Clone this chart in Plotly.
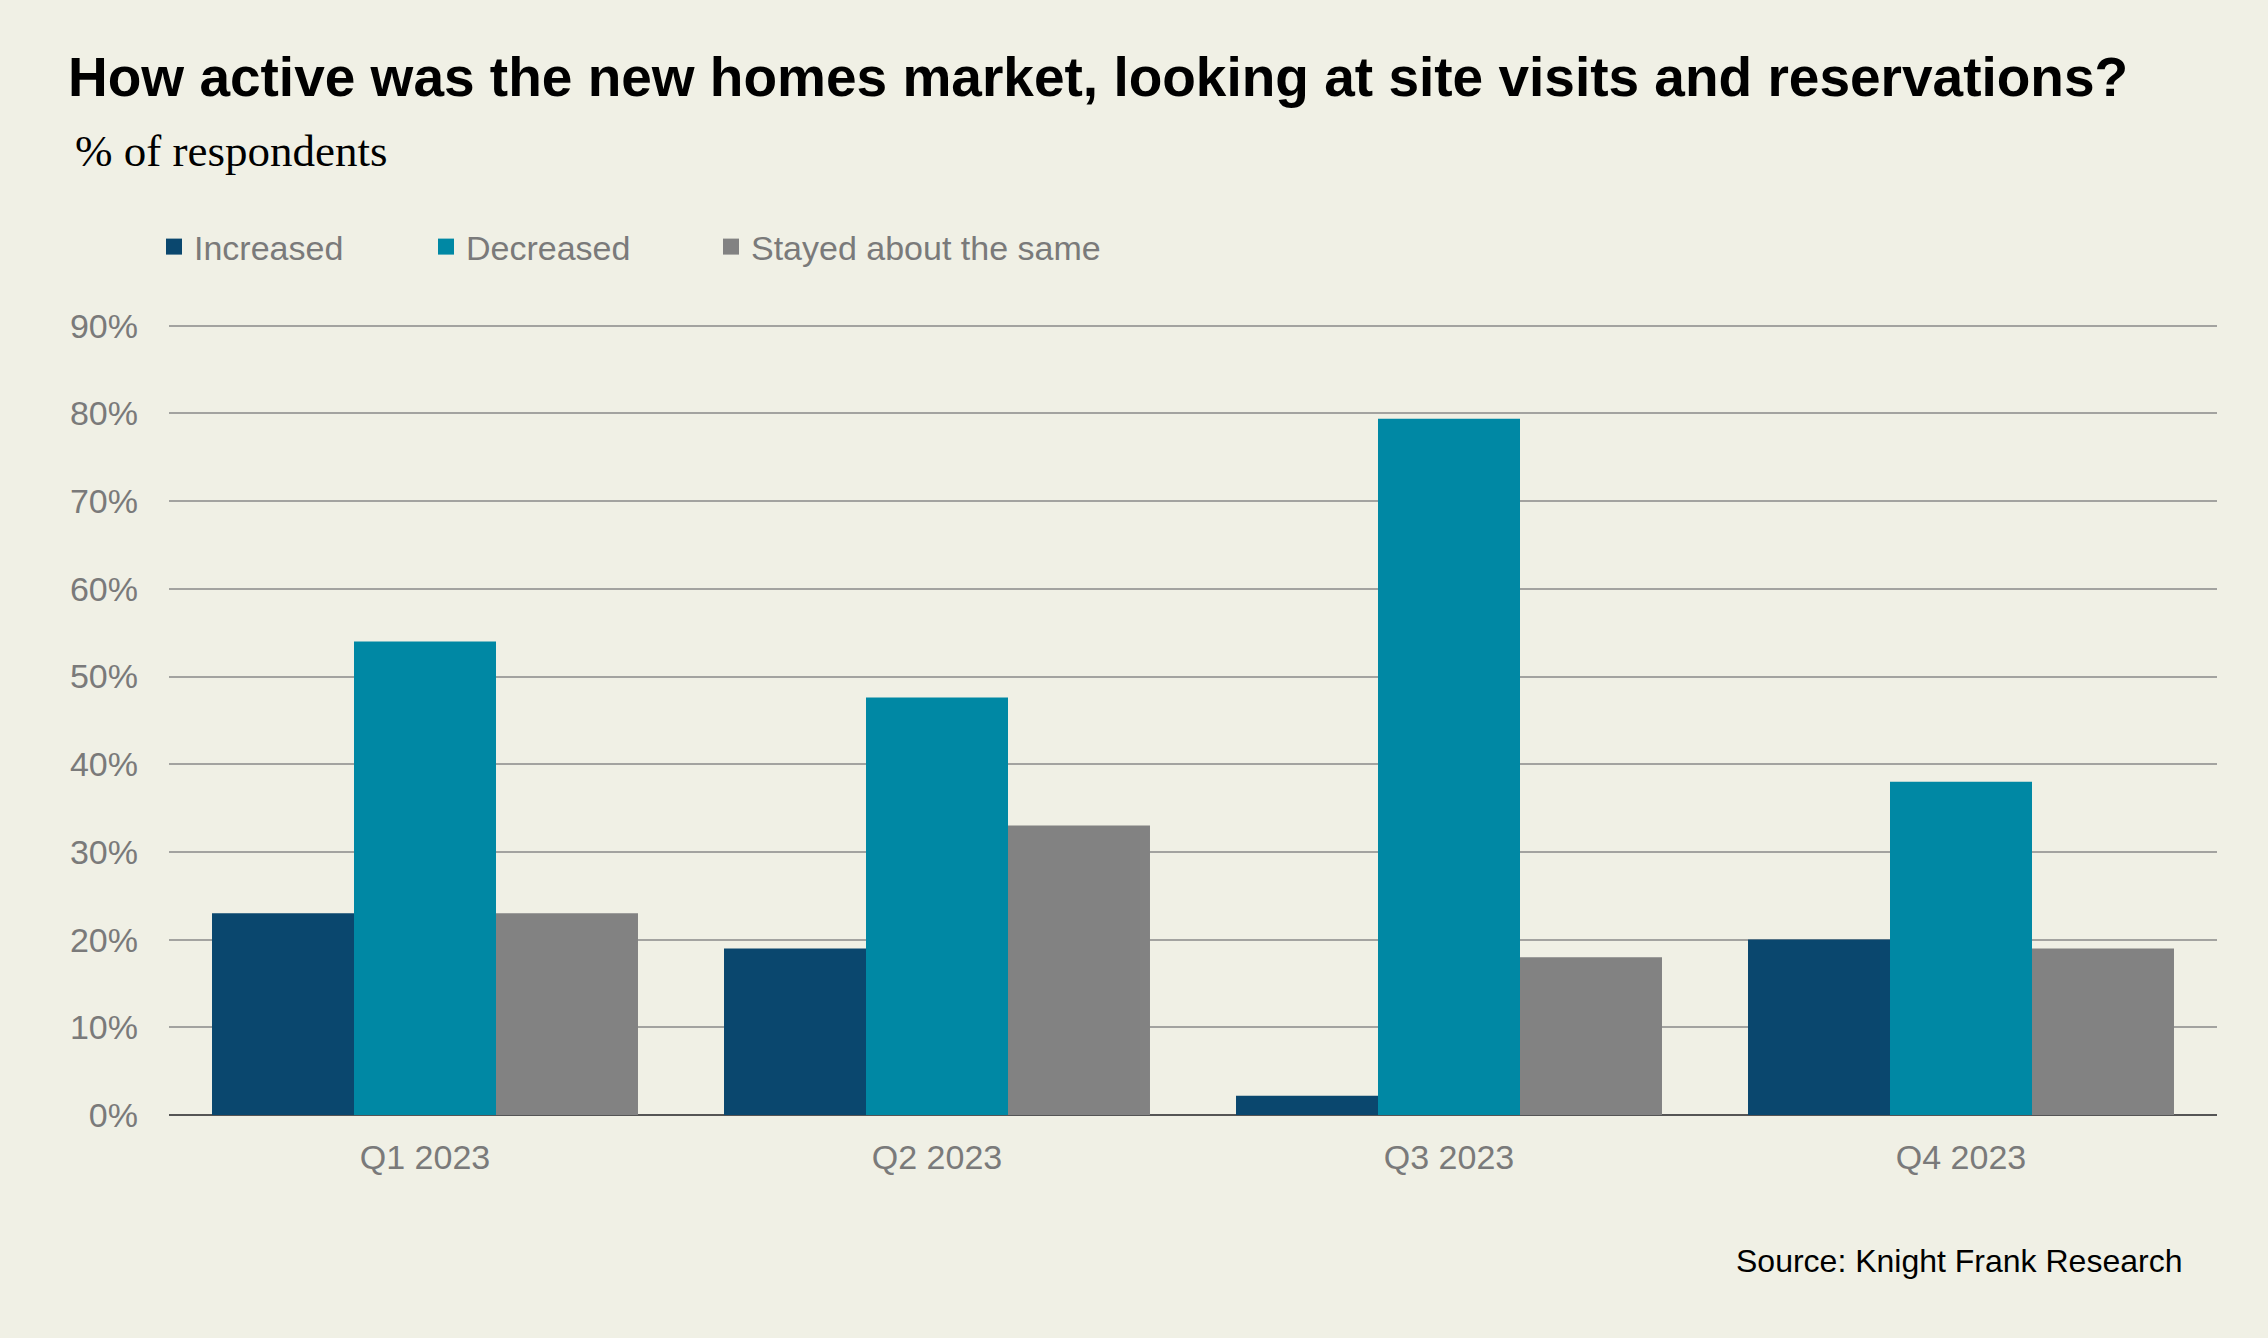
import plotly.graph_objects as go

quarters = ["Q1 2023", "Q2 2023", "Q3 2023", "Q4 2023"]
increased = [23, 19, 2.2, 20]
decreased = [54, 47.6, 79.4, 38]
stayed = [23, 33, 18, 19]
y_ticks = [0, 10, 20, 30, 40, 50, 60, 70, 80, 90]
y_tick_labels = [f"{v}%" for v in y_ticks]

series_names = ["Increased", "Decreased", "Stayed about the same"]
series_values = [increased, decreased, stayed]
series_colors = ["#0a476e", "#0088a4", "#828282"]

W, H = 2268, 1338
BG = "#f0f0e5"
GREY = "#7a7a7a"
Y_MAX = 91
L, R, T, B = 169, 51, 317, 223
PW, PH = W - L - R, H - T - B


def px_x(px):
    return (px - L) / PW


def px_y(py):
    return (H - B - py) / PH


legend_ids = ["legend", "legend2", "legend3"]
legend_x = [154, 426, 711]

fig = go.Figure()
for name, vals, col, lid in zip(series_names, series_values, series_colors, legend_ids):
    fig.add_trace(go.Bar(
        name=name, x=quarters, y=vals,
        marker=dict(color=col, line=dict(width=0)),
        showlegend=False,
    ))
    # legend entry with a larger square swatch
    fig.add_trace(go.Scatter(
        name=name, x=[None], y=[None], mode="markers",
        marker=dict(symbol="square", size=17, color=col),
        legend=lid, showlegend=True, hoverinfo="skip",
    ))

legend_common = dict(
    orientation="h", xref="container", yref="container",
    y=1 - 247 / H, xanchor="left", yanchor="middle",
    font=dict(family="Liberation Sans, Arial, sans-serif", size=34, color=GREY),
    bgcolor="rgba(0,0,0,0)", itemwidth=30, itemsizing="trace",
)

fig.update_layout(
    width=W, height=H,
    paper_bgcolor=BG, plot_bgcolor=BG,
    barmode="group", bargap=0.168, bargroupgap=0,
    margin=dict(l=L, r=R, t=T, b=B, autoexpand=False),
    font=dict(family="Liberation Sans, Arial, sans-serif", size=34, color=GREY),
    showlegend=True,
    legend=dict(x=legend_x[0] / W, **legend_common),
    legend2=dict(x=legend_x[1] / W, **legend_common),
    legend3=dict(x=legend_x[2] / W, **legend_common),
    xaxis=dict(
        showgrid=False, showline=False, ticks="",
        tickfont=dict(size=34, color=GREY), ticklabelstandoff=19,
    ),
    yaxis=dict(
        range=[0, Y_MAX], tickvals=y_ticks, ticktext=y_tick_labels,
        showgrid=True, gridcolor="#a3a3a0", gridwidth=1.6,
        zeroline=True, zerolinecolor="#555555", zerolinewidth=1.8,
        showline=False, ticks="",
        tickfont=dict(size=34, color=GREY), ticklabelstandoff=30,
        fixedrange=True,
    ),
    annotations=[
        dict(text="<b>How active was the new homes market, looking at site visits and reservations?</b>",
             xref="paper", yref="paper", x=px_x(66), y=px_y(77),
             xanchor="left", yanchor="middle", showarrow=False,
             font=dict(family="Liberation Sans, Arial, sans-serif", size=55, color="#000000")),
        dict(text="% of respondents",
             xref="paper", yref="paper", x=px_x(73), y=px_y(151),
             xanchor="left", yanchor="middle", showarrow=False,
             font=dict(family="Liberation Serif, Times New Roman, serif", size=45, color="#000000")),
        dict(text="Source: Knight Frank Research",
             xref="paper", yref="paper", x=px_x(2184), y=px_y(1261),
             xanchor="right", yanchor="middle", showarrow=False,
             font=dict(family="Liberation Sans, Arial, sans-serif", size=32, color="#000000")),
    ],
)

fig.write_html("out.html", config={"displayModeBar": False},
               post_script="document.body.style.margin='0px';")
